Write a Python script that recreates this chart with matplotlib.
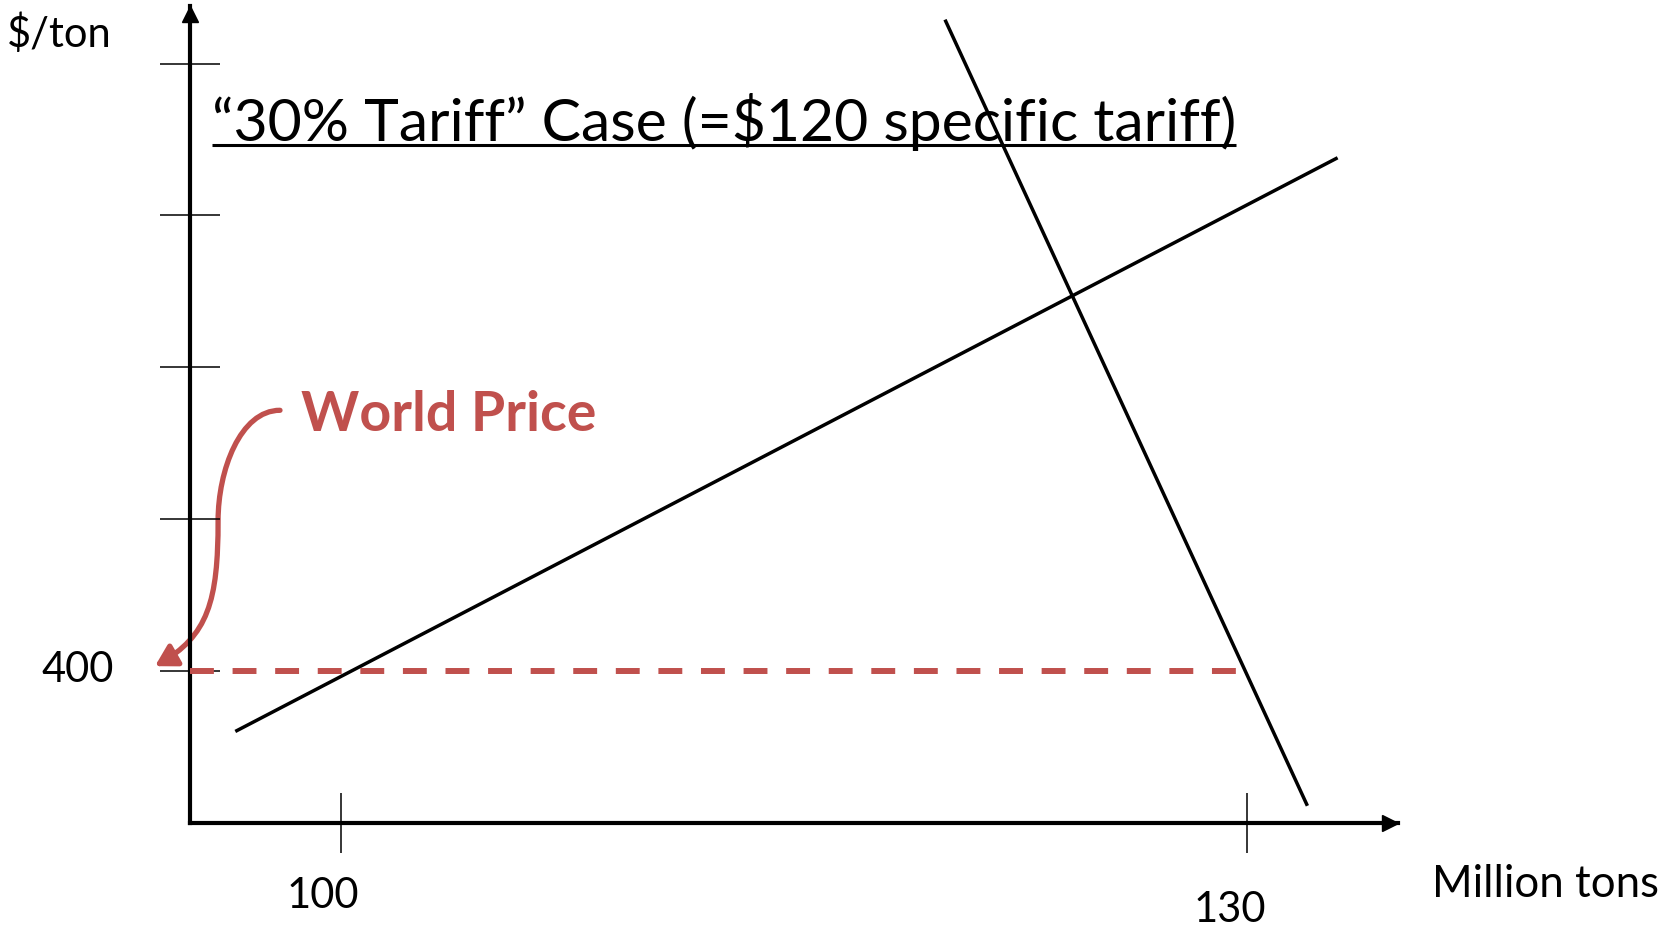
import matplotlib
matplotlib.use('Agg')
import matplotlib.pyplot as plt
from matplotlib.path import Path
from matplotlib.patches import FancyArrowPatch
from matplotlib.transforms import offset_copy

plt.rcParams['font.family'] = ['Lato', 'DejaVu Sans']

RED = '#C0504D'

# ── data ──────────────────────────────────────────────────────────────────
X_MIN, X_MAX = 95, 135          # million tons
Y_MIN, Y_MAX = 300, 838         # $/ton
X_TICKS = [100, 130]
Y_TICKS = [400, 500, 600, 700, 800]

WORLD_PRICE = 400
world_q = [95, 129.65]

supply_q = [96.5, 133.0]
supply_p = [360, 738]
demand_q = [120.0, 132.0]
demand_p = [829, 311]

TITLE = '\u201c30% Tariff\u201d Case (=$120 specific tariff)'

# ── figure ────────────────────────────────────────────────────────────────
fig = plt.figure(figsize=(16.66, 9.28), dpi=100)
ax = fig.add_axes([190/1666, 104.5/928, 1208/1666, 816.5/928])
ax.set_xlim(X_MIN, X_MAX)
ax.set_ylim(Y_MIN, Y_MAX)

for s in ['top', 'right']:
    ax.spines[s].set_visible(False)
for s in ['left', 'bottom']:
    ax.spines[s].set_linewidth(3)

ax.set_xticks(X_TICKS)
ax.set_yticks(Y_TICKS)
ax.set_xticklabels([])
ax.set_yticklabels([])
ax.tick_params(direction='inout', length=43, width=1.1, color='black')

# axis arrowheads
ax.plot([X_MAX], [Y_MIN], marker='>', ms=11.5, color='black', clip_on=False,
        transform=offset_copy(ax.transData, fig, x=-8, y=0, units='dots'))
ax.plot([X_MIN], [Y_MAX], marker='^', ms=11.5, color='black', clip_on=False,
        transform=offset_copy(ax.transData, fig, x=0, y=-8, units='dots'))

# supply / demand
ax.plot(supply_q, supply_p, color='black', lw=2.5, solid_capstyle='butt')
ax.plot(demand_q, demand_p, color='black', lw=2.5, solid_capstyle='butt')

# world price
ax.plot(world_q, [WORLD_PRICE]*2, color=RED, lw=4.3, dashes=(4.0, 3.13),
        dash_capstyle='butt', zorder=4, clip_on=False)

# curved pointer to world price
verts = [(97.98, 571.6), (96.66, 571.6), (95.93, 531.9), (95.93, 498.9),
         (95.93, 446.0), (95.60, 422.9), (93.84, 403.0)]
codes = [Path.MOVETO] + [Path.CURVE4]*6
arr = FancyArrowPatch(path=Path(verts, codes),
                      arrowstyle='-|>,head_length=0.45,head_width=0.26',
                      mutation_scale=28, lw=3.8, color=RED, clip_on=False)
ax.add_patch(arr)

# ── text ──────────────────────────────────────────────────────────────────
ax.text(98.68, 558.4, 'World Price', color=RED, fontsize=40, fontweight='bold',
        ha='left', va='baseline')
ax.text(88.94, 811.5, '$/ton', fontsize=30, ha='left', va='baseline', clip_on=False)
ax.text(91.29, 393.2, '400', fontsize=30, ha='center', va='baseline', clip_on=False)
ax.text(99.40, 244.6, '100', fontsize=30, ha='center', va='baseline', clip_on=False)
ax.text(129.44, 235.0, '130', fontsize=30, ha='center', va='baseline', clip_on=False)
ax.text(136.13, 251.8, 'Million tons', fontsize=31.5, ha='left', va='baseline', clip_on=False)

title = ax.text(95.73, 749.5, TITLE, fontsize=42.4, ha='left', va='baseline')

# underline the title
fig.canvas.draw()
bb = title.get_window_extent(fig.canvas.get_renderer())
x0 = ax.transData.inverted().transform((bb.x0, 0))[0]
x1 = ax.transData.inverted().transform((bb.x1, 0))[0]
ax.plot([x0, x1], [746.5, 746.5], color='black', lw=2.2, solid_capstyle='butt')

fig.savefig('out.png', dpi=100)
